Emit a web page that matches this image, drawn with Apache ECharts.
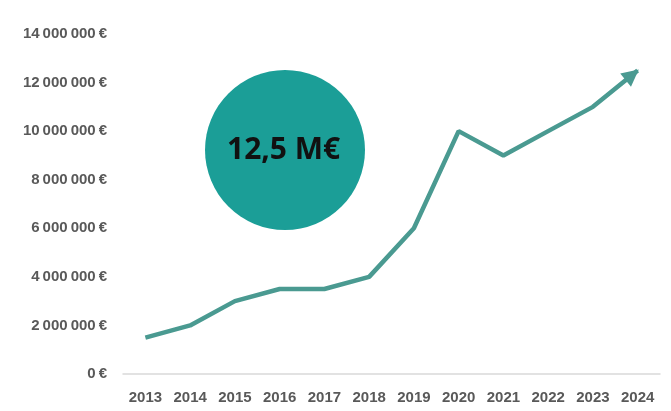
<!DOCTYPE html>
<html><head><meta charset="utf-8">
<script src="https://cdn.jsdelivr.net/npm/echarts@6/dist/echarts.min.js"></script>
<style>html,body{margin:0;padding:0;background:#fff}#c{width:671px;height:411px}</style>
</head><body><div id="c"></div>
<script>
const years = ['2013','2014','2015','2016','2017','2018','2019','2020','2021','2022','2023','2024'];
const revenue = [1500000, 2000000, 3000000, 3500000, 3500000, 4000000, 6000000, 10000000, 9000000, 10000000, 11000000, 12500000];
const badgeText = '12,5 M€';

const chart = echarts.init(document.getElementById('c'));
function fmt(v){
  return String(v).replace(/\B(?=(\d{3})+(?!\d))/g, '\u2009') + '\u2009€';
}
const LINE = '#4a9a91';
const opt = {
  animation:false,
  grid:{left:123, right:11, top:34, bottom:37},
  xAxis:{type:'category', data:years, boundaryGap:true,
    axisLine:{lineStyle:{color:'#d9d9d9', width:1.5}}, axisTick:{show:false},
    axisLabel:{color:'#595959', fontWeight:'bold', fontSize:15, fontFamily:'Liberation Sans', margin:16}},
  yAxis:{type:'value', min:0, max:14000000, interval:2000000,
    axisLine:{show:false}, axisTick:{show:false}, splitLine:{show:false},
    axisLabel:{color:'#595959', fontWeight:'bold', fontSize:15, fontFamily:'Liberation Sans', margin:16, formatter:fmt}},
  series:[{type:'line', data:revenue.map((v,i)=>i===revenue.length-1?{value:v, symbol:'triangle', symbolSize:[17,17], symbolRotate:-51, itemStyle:{color:LINE}}:v),
    symbol:'none', showSymbol:true, lineStyle:{color:LINE, width:4.5}, z:3}],
  graphic:[{type:'circle', shape:{cx:285, cy:150, r:80}, style:{fill:'#1b9e97'}, z:1},
    {type:'text', left:227, top:135, style:{text:badgeText, fill:'#111', font:'bold 30px "Open Sans"'}, z:2}]
};
chart.setOption(opt);
// arrow head oriented along the last segment, tip on the last data point
const n = revenue.length;
const p1 = chart.convertToPixel({seriesIndex:0}, [n-2, revenue[n-2]]);
const p2 = chart.convertToPixel({seriesIndex:0}, [n-1, revenue[n-1]]);
const dx = p2[0]-p1[0], dy = p2[1]-p1[1], L = Math.hypot(dx,dy);
const ang = Math.atan2(-dy, dx) * 180 / Math.PI;
const last = opt.series[0].data[n-1];
last.symbolRotate = ang - 90;
last.symbolOffset = [-dx/L*7, -dy/L*7];
chart.setOption(opt);
</script></body></html>
